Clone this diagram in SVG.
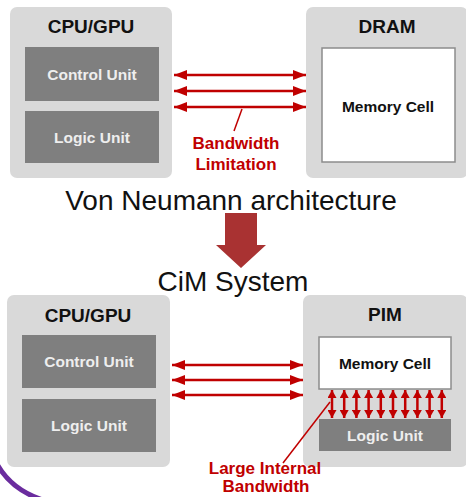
<svg xmlns="http://www.w3.org/2000/svg" width="466" height="497" viewBox="0 0 466 497">
<defs>
<style>
.panel{fill:#d9d9d9;}
.unit{fill:#7f7f7f;}
.mem{fill:#ffffff;stroke:#8c8c8c;stroke-width:1.5;}
.title{font-family:"Liberation Sans",Arial,sans-serif;font-weight:bold;font-size:19px;fill:#111;text-anchor:middle;}
.utext{font-family:"Liberation Sans",Arial,sans-serif;font-weight:bold;font-size:15.5px;fill:#eeeeee;text-anchor:middle;}
.mtext{font-family:"Liberation Sans",Arial,sans-serif;font-weight:bold;font-size:15.5px;fill:#111;text-anchor:middle;}
.red{font-family:"Liberation Sans",Arial,sans-serif;font-weight:bold;font-size:17px;fill:#c00000;text-anchor:middle;}
.big{font-family:"Liberation Sans",Arial,sans-serif;font-size:28px;fill:#111;text-anchor:middle;}
.bus{stroke:#c00000;stroke-width:2.5;fill:none;marker-start:url(#hs);marker-end:url(#he);}
.vbus{stroke:#c00000;stroke-width:2.5;fill:none;marker-start:url(#vs);marker-end:url(#ve);}
.lead{stroke:#c00000;stroke-width:1.5;fill:none;}
</style>
<marker id="he" markerUnits="userSpaceOnUse" markerWidth="13" markerHeight="10" refX="13" refY="5" orient="auto"><path d="M0,0 L13,5 L0,10 Z" fill="#c00000"/></marker>
<marker id="hs" markerUnits="userSpaceOnUse" markerWidth="13" markerHeight="10" refX="0" refY="5" orient="auto"><path d="M13,0 L0,5 L13,10 Z" fill="#c00000"/></marker>
<marker id="ve" markerUnits="userSpaceOnUse" markerWidth="8" markerHeight="9" refX="8" refY="4.5" orient="auto"><path d="M0,0 L8,4.5 L0,9 Z" fill="#c00000"/></marker>
<marker id="vs" markerUnits="userSpaceOnUse" markerWidth="8" markerHeight="9" refX="0" refY="4.5" orient="auto"><path d="M8,0 L0,4.5 L8,9 Z" fill="#c00000"/></marker>
</defs>
<rect width="466" height="497" fill="#ffffff"/>
<path d="M -3 464 Q 12 491 46 501" stroke="#6a2c9e" stroke-width="5" fill="none"/>

<g id="vn-cpu">
<rect class="panel" x="10" y="7" width="162" height="171" rx="7"/>
<text class="title" x="91" y="33">CPU/GPU</text>
</g>
<g id="vn-control">
<rect class="unit" x="25" y="47" width="134" height="54"/>
<text class="utext" x="92" y="80">Control Unit</text>
</g>
<g id="vn-logic">
<rect class="unit" x="25" y="111" width="134" height="52"/>
<text class="utext" x="92" y="143">Logic Unit</text>
</g>
<g id="vn-dram">
<rect class="panel" x="306" y="7" width="162" height="171" rx="7"/>
<text class="title" x="387" y="33">DRAM</text>
</g>
<g id="vn-mem">
<rect class="mem" x="322" y="48" width="133" height="114"/>
<text class="mtext" x="388" y="112">Memory Cell</text>
</g>
<g id="vn-bw-label">
<text class="red" x="236" y="149">Bandwidth</text>
<text class="red" x="236" y="170">Limitation</text>
</g>

<g id="vn-title"><text class="big" x="231" y="210">Von Neumann architecture</text></g>
<g id="transition"><path d="M225,213 H257 V245 H266 L241,268 L216,245 H225 Z" fill="#a93232"/></g>
<g id="cim-title"><text class="big" x="233" y="291">CiM System</text></g>

<g id="cim-cpu">
<rect class="panel" x="7" y="295" width="163" height="172" rx="7"/>
<text class="title" x="88" y="322">CPU/GPU</text>
</g>
<g id="cim-control">
<rect class="unit" x="22" y="335" width="134" height="53"/>
<text class="utext" x="89" y="367">Control Unit</text>
</g>
<g id="cim-logic">
<rect class="unit" x="22" y="399" width="134" height="53"/>
<text class="utext" x="89" y="431">Logic Unit</text>
</g>
<g id="cim-pim">
<rect class="panel" x="303" y="295" width="165" height="172" rx="7"/>
<text class="title" x="385" y="321">PIM</text>
</g>
<g id="cim-mem">
<rect class="mem" x="319" y="337" width="132" height="52"/>
<text class="mtext" x="385" y="369">Memory Cell</text>
</g>
<g id="cim-logic-pim">
<rect class="unit" x="319" y="419" width="132" height="32"/>
<text class="utext" x="385" y="441">Logic Unit</text>
</g>
<g id="cim-bw-label">
<text class="red" x="265" y="474">Large Internal</text>
<text class="red" x="266" y="492">Bandwidth</text>
</g>

<g id="connectors">
<line class="bus" x1="174" y1="75" x2="306" y2="75"/>
<line class="bus" x1="174" y1="91" x2="306" y2="91"/>
<line class="bus" x1="174" y1="107" x2="306" y2="107"/>
<line class="lead" x1="242" y1="109" x2="234" y2="131"/>
<line class="bus" x1="172" y1="365" x2="303" y2="365"/>
<line class="bus" x1="172" y1="380" x2="303" y2="380"/>
<line class="bus" x1="172" y1="395" x2="303" y2="395"/>
<line class="vbus" x1="332" y1="390" x2="332" y2="418"/>
<line class="vbus" x1="344.2" y1="390" x2="344.2" y2="418"/>
<line class="vbus" x1="356.4" y1="390" x2="356.4" y2="418"/>
<line class="vbus" x1="368.6" y1="390" x2="368.6" y2="418"/>
<line class="vbus" x1="380.8" y1="390" x2="380.8" y2="418"/>
<line class="vbus" x1="393" y1="390" x2="393" y2="418"/>
<line class="vbus" x1="405.2" y1="390" x2="405.2" y2="418"/>
<line class="vbus" x1="417.4" y1="390" x2="417.4" y2="418"/>
<line class="vbus" x1="429.6" y1="390" x2="429.6" y2="418"/>
<line class="vbus" x1="441.8" y1="390" x2="441.8" y2="418"/>
<line class="lead" x1="330" y1="402" x2="283" y2="463"/>
</g>
</svg>
